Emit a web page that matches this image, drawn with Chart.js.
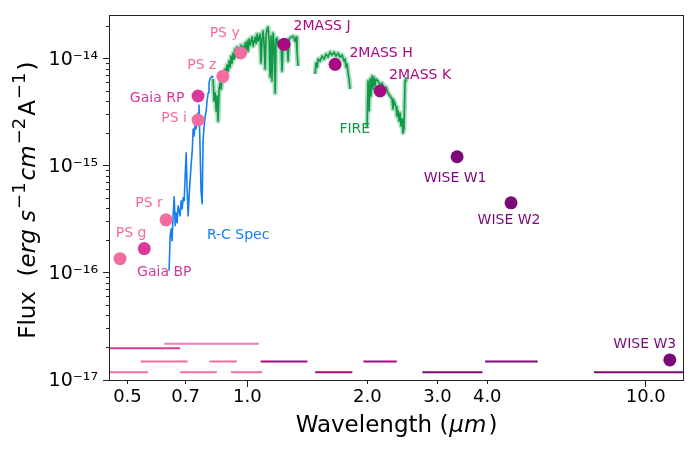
<!DOCTYPE html>
<html>
<head>
<meta charset="utf-8">
<script src="https://cdn.jsdelivr.net/npm/chart.js@4.4.0/dist/chart.umd.min.js"></script>
<style>
    html, body { margin: 0; padding: 0; background: #fff; }
    #wrap { width: 700px; height: 452px; }
</style>
</head>
<body>
<div id="wrap"><canvas id="sed_chart"></canvas></div>
<script>
// wavelengths in micron, fluxes in units of 1e-15 erg/s/cm2/A
var FLUX_UNIT = 1e-15;

// photometry
var photNames = ['PS g', 'Gaia BP', 'PS r', 'PS i', 'Gaia RP', 'PS z', 'PS y',
                 '2MASS J', '2MASS H', '2MASS K', 'WISE W1', 'WISE W2', 'WISE W3'];
var photWave = [0.479, 0.551, 0.625, 0.752, 0.752, 0.868, 0.962, 1.236, 1.660, 2.153, 3.36, 4.59, 11.49];
var photFlux = [0.136, 0.169, 0.314, 2.69, 4.51, 6.88, 11.4, 13.7, 8.91, 5.02, 1.22, 0.453, 0.0154];

// filter widths drawn along the bottom
var bandLo = [0.40, 0.33, 0.540, 0.678, 0.619, 0.803, 0.910, 1.080, 1.479, 1.955, 2.749, 3.950, 7.41];
var bandHi = [0.5625, 0.678, 0.7085, 0.838, 1.068, 0.941, 1.090, 1.414, 1.834, 2.372, 3.889, 5.355, 17.0];
var bandLevel = [0.0118, 0.0198, 0.0149, 0.0118, 0.0218, 0.0149, 0.0118, 0.0149, 0.0118, 0.0149, 0.0118, 0.0149, 0.0118];

// R-C optical spectrum
var rcWave = [0.636, 0.640, 0.644, 0.647, 0.651, 0.655, 0.659, 0.662, 0.666, 0.670, 0.678, 0.682, 0.686, 0.690, 0.694,
              0.698, 0.702, 0.706, 0.710, 0.714, 0.718, 0.722, 0.727, 0.731, 0.735, 0.739, 0.743, 0.748, 0.752, 0.756,
              0.761, 0.765, 0.770, 0.774, 0.779, 0.783, 0.788, 0.792, 0.797, 0.801, 0.806, 0.816, 0.820];
var rcFlux = [0.105, 0.223, 0.259, 0.200, 0.342, 0.515, 0.276, 0.365, 0.295, 0.424, 0.342, 0.473, 0.398, 0.504, 0.473,
              0.809, 1.325, 0.586, 0.342, 0.526, 0.726, 1.002, 1.383, 2.219, 1.909, 2.418, 2.219, 2.750, 3.128, 3.715,
              1.383, 0.586, 0.443, 1.714, 2.366, 2.871, 3.266, 4.049, 4.807, 5.961, 6.494, 6.926, 6.635];

// FIRE near-IR spectrum, three pieces between the telluric gaps
var fireJWave = [0.820, 0.825, 0.830, 0.835, 0.839, 0.844, 0.849, 0.854, 0.859, 0.864,
                 0.869, 0.874, 0.879, 0.884, 0.889, 0.895, 0.900, 0.905, 0.910, 0.915,
                 0.921, 0.926, 0.931, 0.937, 0.942, 0.948, 0.953, 0.959, 0.964, 0.970,
                 0.975, 0.981, 0.987, 0.993, 0.998, 1.004, 1.010, 1.016,
                 1.028, 1.034, 1.046, 1.052, 1.058, 1.064,
                 1.076, 1.082, 1.089, 1.095, 1.101, 1.108, 1.114, 1.121, 1.127, 1.134,
                 1.140, 1.147, 1.153, 1.160, 1.167, 1.174, 1.180, 1.187, 1.194, 1.201,
                 1.215, 1.222, 1.229, 1.243, 1.258, 1.265, 1.272, 1.287, 1.302, 1.317, 1.325, 1.332, 1.340];
var fireJFlux = [6.49, 4.05, 4.81, 3.27, 4.51, 2.63, 5.02, 5.96, 5.24, 6.78,
                 7.08, 6.22, 8.05, 7.39, 8.77, 7.71, 9.56, 8.40, 10.64, 9.16,
                 11.35, 9.98, 12.37, 10.41, 12.91, 11.35, 12.64, 10.64, 13.48, 11.85,
                 13.19, 11.35, 14.07, 12.37, 14.69, 11.85, 15.33, 13.48,
                 16.01, 13.19, 16.01, 14.07, 17.07, 14.69,
                 17.07, 9.16, 15.33, 18.21, 14.07, 8.05, 16.71, 19.01, 19.84, 14.69,
                 6.78, 16.35, 6.22, 17.44, 13.48, 4.81, 15.33, 15.67, 13.19, 14.69,
                 13.48, 7.71, 14.07, 14.07, 15.01, 9.56, 15.33, 16.01, 16.35, 14.69, 16.01, 11.85, 8.59];
var fireHWave = [1.479, 1.487, 1.496, 1.505, 1.522, 1.540, 1.558, 1.576, 1.594, 1.613, 1.631, 1.650,
                 1.669, 1.689, 1.708, 1.728, 1.748, 1.758, 1.769, 1.779, 1.789, 1.800, 1.810];
var fireHFlux = [7.23, 9.16, 8.40, 9.98, 9.56, 10.64, 9.98, 11.11, 10.41, 11.60, 10.87, 11.60,
                 10.64, 11.35, 10.41, 10.87, 9.56, 9.98, 8.40, 8.96, 7.39, 6.49, 5.24];
var fireKWave = [1.997, 2.008, 2.020, 2.032, 2.043, 2.055, 2.067, 2.079, 2.091, 2.103, 2.128, 2.153, 2.178,
                 2.203, 2.228, 2.254, 2.280, 2.307, 2.320, 2.334, 2.361, 2.374, 2.388, 2.402, 2.416, 2.430,
                 2.444, 2.458, 2.472, 2.487, 2.501];
var fireKFlux = [2.32, 6.22, 3.27, 6.49, 4.51, 6.93, 5.24, 6.78, 5.59, 6.49, 6.22, 5.71, 5.96,
                 5.24, 5.47, 4.81, 4.51, 4.23, 3.41, 4.05, 3.56, 2.93, 3.27, 2.63, 3.13, 2.37,
                 2.75, 2.04, 2.22, 6.22, 6.78];

// axes
var xTicks = [0.5, 0.7, 1.0, 2.0, 3.0, 4.0, 10.0];
var xMajor = [1.0, 10.0];
var yDecades = [1e-17, 1e-16, 1e-15, 1e-14];
var xRange = [0.452, 12.4];
var yRange = [1e-17, 2.5e-14];

// styling
var surveyColor = {'PS': '#f26c9f', 'Gaia': '#d93a97', '2MASS': '#a70a80', 'WISE': '#780a7a'};
var rpBandColor = '#e57db7';
var fireColor = '#0e9a46';
var rcColor = '#157ef4';
var labelOffset = {
    'PS g': [11, -25], 'Gaia BP': [20, 24], 'PS r': [-17, -16], 'PS i': [-24, -2],
    'Gaia RP': [-41, 2], 'PS z': [-21, -11], 'PS y': [-16, -20],
    '2MASS J': [38, -18], '2MASS H': [46, -11], '2MASS K': [40, -16],
    'WISE W1': [-2, 22], 'WISE W2': [-2, 18], 'WISE W3': [-25, -16]
};
var specLabels = [
    {text: 'FIRE', x: 1.86, y: 2.22, color: fireColor},
    {text: 'R-C Spec', x: 0.948, y: 0.223, color: rcColor}
];

Chart.defaults.font.family = 'DejaVu Sans';

function surveyOf(name) {
    return name.split(' ')[0];
}

function toPoints(wave, flux) {
    return wave.map(function (w, i) { return {x: w, y: flux[i] * FLUX_UNIT}; });
}

function supText(n) {
    var map = {'-': '\u207b', '0': '\u2070', '1': '\u00b9', '2': '\u00b2', '3': '\u00b3', '4': '\u2074',
               '5': '\u2075', '6': '\u2076', '7': '\u2077', '8': '\u2078', '9': '\u2079'};
    return String(n).split('').map(function (c) { return map[c]; }).join('');
}

function isDecade(v) {
    var e = Math.round(Math.log10(v));
    return Math.abs(v / Math.pow(10, e) - 1) < 1e-6;
}

function specDatasets(wave, flux, color, envelope) {
    var pts = toPoints(wave, flux);
    var list = [{
        data: pts, showLine: true, borderColor: color, borderWidth: 1.6,
        borderJoinStyle: 'round', pointRadius: 0, order: 3
    }];
    if (envelope) {
        list.push({
            data: pts, showLine: true, borderColor: envelope, borderWidth: 5,
            borderJoinStyle: 'round', pointRadius: 0, order: 4
        });
    }
    return list;
}

function buildDatasets() {
    var sets = [];
    sets.push({
        data: toPoints(photWave, photFlux),
        showLine: false,
        pointRadius: 6.5,
        pointHoverRadius: 6.5,
        pointBorderWidth: 0,
        pointBackgroundColor: photNames.map(function (n) { return surveyColor[surveyOf(n)]; }),
        order: 0
    });
    photNames.forEach(function (n, i) {
        var col = n === 'Gaia RP' ? rpBandColor : surveyColor[surveyOf(n)];
        sets.push({
            data: [{x: bandLo[i], y: bandLevel[i] * FLUX_UNIT}, {x: bandHi[i], y: bandLevel[i] * FLUX_UNIT}],
            showLine: true, borderColor: col, borderWidth: 2, pointRadius: 0, order: 1
        });
    });
    sets = sets.concat(specDatasets(rcWave, rcFlux, rcColor, null));
    var env = 'rgba(14,154,70,0.35)';
    sets = sets.concat(specDatasets(fireJWave, fireJFlux, fireColor, env));
    sets = sets.concat(specDatasets(fireHWave, fireHFlux, fireColor, env));
    sets = sets.concat(specDatasets(fireKWave, fireKFlux, fireColor, env));
    return sets;
}

function fontFor(style, size) {
    if (style === 'i') return 'italic ' + size + 'px "DejaVu Sans"';
    if (style === 'sup') return Math.round(size * 0.8) + 'px "DejaVu Sans"';
    return size + 'px "DejaVu Sans"';
}

// parts: [text, style, gap before, gap after]
function drawRich(ctx, parts, size) {
    var total = 0;
    parts.forEach(function (p) {
        ctx.font = fontFor(p[1], size);
        total += ctx.measureText(p[0]).width + (p[2] || 0) + (p[3] || 0);
    });
    var x = -total / 2;
    parts.forEach(function (p) {
        ctx.font = fontFor(p[1], size);
        x += p[2] || 0;
        ctx.fillText(p[0], x, p[1] === 'sup' ? -size * 0.42 : 0);
        x += ctx.measureText(p[0]).width + (p[3] || 0);
    });
}

// frame, text labels and axis titles
var decorations = {
    id: 'decorations',
    afterDatasetsDraw: function (chart) {
        var ctx = chart.ctx, a = chart.chartArea;
        var xs = chart.scales.x, ys = chart.scales.y;
        ctx.save();
        ctx.font = '14px "DejaVu Sans"';
        ctx.textAlign = 'center';
        ctx.textBaseline = 'middle';
        photNames.forEach(function (n, i) {
            var px = xs.getPixelForValue(photWave[i]);
            var py = ys.getPixelForValue(photFlux[i] * FLUX_UNIT);
            ctx.fillStyle = surveyColor[surveyOf(n)];
            ctx.fillText(n, px + labelOffset[n][0], py + labelOffset[n][1]);
        });
        specLabels.forEach(function (s) {
            ctx.fillStyle = s.color;
            ctx.fillText(s.text, xs.getPixelForValue(s.x), ys.getPixelForValue(s.y * FLUX_UNIT));
        });
        ctx.strokeStyle = '#222';
        ctx.lineWidth = 1;
        ctx.strokeRect(Math.round(a.left) - 0.5, Math.round(a.top) - 0.5,
                       Math.round(a.right - a.left) + 1, Math.round(a.bottom - a.top) + 1);
        ctx.restore();
    },
    afterDraw: function (chart) {
        var ctx = chart.ctx, a = chart.chartArea;
        ctx.save();
        ctx.fillStyle = '#000';
        ctx.textBaseline = 'alphabetic';
        ctx.translate((a.left + a.right) / 2, a.bottom + 52);
        drawRich(ctx, [['Wavelength (', 'n'], ['\u03bcm', 'i', 1, 2], [')', 'n']], 23);
        ctx.restore();

        ctx.save();
        ctx.fillStyle = '#000';
        ctx.textBaseline = 'alphabetic';
        ctx.translate(35, (a.top + a.bottom) / 2 + 2);
        ctx.rotate(-Math.PI / 2);
        drawRich(ctx, [['Flux  (', 'n'], ['erg s', 'i'], ['\u22121', 'sup', 1, 2], ['cm', 'i'],
                       ['\u22122', 'sup', 1, 2], ['A', 'n'], ['\u22121', 'sup', 1, 2], [')', 'n']], 23);
        ctx.restore();
    }
};

new Chart(document.getElementById('sed_chart').getContext('2d'), {
    type: 'scatter',
    data: {datasets: buildDatasets()},
    options: {
        responsive: true,
        maintainAspectRatio: false,
        animation: false,
        events: [],
        layout: {padding: {top: 15, right: 17, bottom: 0, left: 0}},
        plugins: {legend: {display: false}, tooltip: {enabled: false}},
        scales: {
            x: {
                type: 'logarithmic',
                position: 'bottom',
                min: xRange[0],
                max: xRange[1],
                afterBuildTicks: function (scale) {
                    scale.ticks = xTicks.map(function (v) { return {value: v}; });
                },
                afterFit: function (scale) { scale.height = 72; },
                border: {display: false},
                grid: {
                    drawOnChartArea: false,
                    tickLength: 7,
                    tickColor: '#222',
                    tickWidth: 1,
                    tickBorderDash: function (ctx) {
                        return (ctx.tick && xMajor.indexOf(ctx.tick.value) >= 0) ? [] : [4, 20];
                    }
                },
                ticks: {
                    autoSkip: false,
                    maxRotation: 0,
                    padding: 0,
                    color: '#000',
                    font: {size: 18},
                    callback: function (v) { return Number(v).toFixed(1); }
                }
            },
            y: {
                type: 'logarithmic',
                min: yRange[0],
                max: yRange[1],
                afterBuildTicks: function (scale) {
                    var t = [];
                    yDecades.forEach(function (d) {
                        for (var m = 1; m <= 9; m++) {
                            var v = d * m;
                            if (v >= yRange[0] * 0.999 && v <= yRange[1]) t.push({value: v});
                        }
                    });
                    scale.ticks = t;
                },
                afterFit: function (scale) { scale.width = 110; },
                border: {display: false},
                grid: {
                    drawOnChartArea: false,
                    tickLength: 7,
                    tickColor: '#222',
                    tickWidth: 1,
                    tickBorderDash: function (ctx) {
                        return (ctx.tick && isDecade(ctx.tick.value)) ? [] : [0, 3, 4, 20];
                    }
                },
                ticks: {
                    autoSkip: false,
                    padding: 5,
                    labelOffset: 1,
                    color: '#000',
                    font: {size: 19},
                    callback: function (v) {
                        if (!isDecade(v)) return '';
                        return '10' + supText(Math.round(Math.log10(v)));
                    }
                }
            }
        }
    },
    plugins: [decorations]
});
</script>
</body>
</html>
